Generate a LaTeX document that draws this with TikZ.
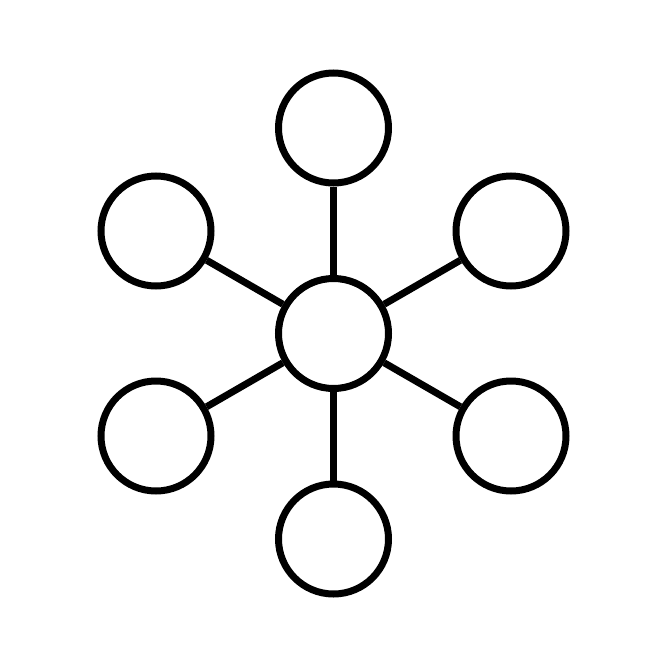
\documentclass[tikz,border=0pt]{standalone}
\begin{document}
\begin{tikzpicture}[x=1pt,y=-1pt,
  hub/.style={circle,draw=black,fill=white,line width=7pt,minimum size=110pt,inner sep=0pt},
  spoke/.style={draw=black,line width=7pt}]
\useasboundingbox[fill=white] (0,0) rectangle (667,667);
\node[hub] (c) at (333.5,333.5) {};
\node[hub] (t) at (333.5,128) {};
\node[hub] (b) at (333.5,539) {};
\node[hub] (lt) at (156,231) {};
\node[hub] (rt) at (511,231) {};
\node[hub] (lb) at (156,436) {};
\node[hub] (rb) at (511,436) {};
\foreach \n in {t,b,lt,rt,lb,rb}{\path[spoke] (c) -- (\n);}
\end{tikzpicture}
\end{document}
